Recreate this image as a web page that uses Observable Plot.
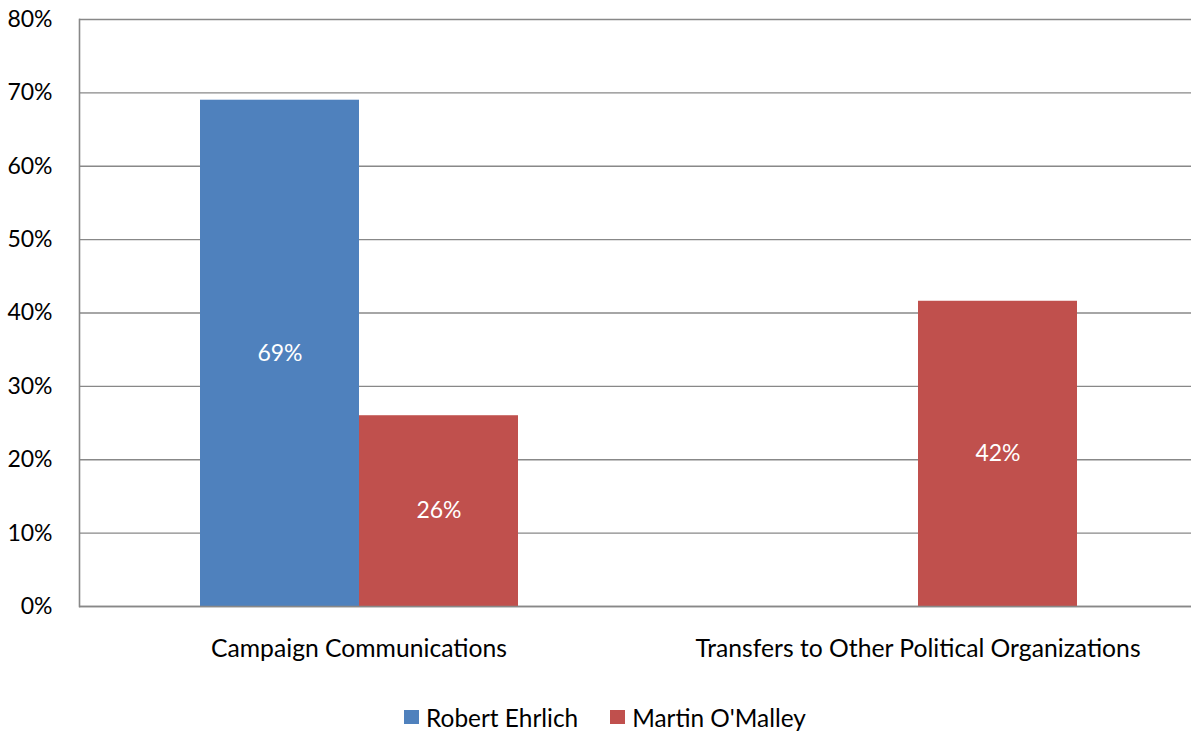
<!DOCTYPE html>
<html><head><meta charset="utf-8">
<script src="https://cdn.jsdelivr.net/npm/d3@7"></script>
<script src="https://cdn.jsdelivr.net/npm/@observablehq/plot@0.6"></script>
<style>
body{margin:0;background:#fff;font-family:"Lato",sans-serif;}
#chart svg{display:block;}
#legend{display:flex;justify-content:center;align-items:center;height:28px;margin-top:23px;font-size:24.4px;color:#000;padding-left:19px;}
#legend .item{display:flex;align-items:center;margin:0 16px;}
#legend .sw{width:15px;height:14px;margin-right:7px;}
</style></head><body>
<div id="chart"></div>
<div id="legend"></div>
<script>
const categories = ["Campaign Communications", "Transfers to Other Political Organizations"];
const seriesNames = ["Robert Ehrlich", "Martin O'Malley"];
const ehrlichValues = [0.69, 0];
const omalleyValues = [0.26, 0.416];
const seriesColors = ["#4F81BD", "#C0504D"];
const yTicks = [0, 0.1, 0.2, 0.3, 0.4, 0.5, 0.6, 0.7, 0.8];

const fmt = d3.format(".0%");
const data = categories.flatMap((c, i) => [
  {category: c, series: seriesNames[0], value: ehrlichValues[i]},
  {category: c, series: seriesNames[1], value: omalleyValues[i]}
]);
const gray = "#888888";

const chart = Plot.plot({
  width: 1191, height: 680,
  marginLeft: 80, marginRight: 0, marginTop: 19, marginBottom: 74,
  style: {fontFamily: "Lato", fontSize: "22px", color: "#000", background: "#fff", overflow: "visible"},
  fx: {domain: categories, range: [79, 1197], paddingInner: 0, paddingOuter: 0, label: null},
  x: {domain: seriesNames, paddingInner: 0, paddingOuter: 0.747, axis: null},
  y: {domain: [0, 0.8], label: null},
  color: {domain: seriesNames, range: seriesColors},
  marks: [
    Plot.gridY(yTicks, {stroke: gray, strokeOpacity: 1, strokeWidth: 1.4}),
    Plot.barY(data, {fx: "category", x: "series", y: "value", fill: "series"}),
    Plot.text(data.filter(d => d.value > 0), {fx: "category", x: "series", y: d => d.value / 2, text: d => fmt(d.value), fill: "white", fontSize: 23}),
    Plot.ruleY([0], {stroke: gray, strokeWidth: 1.6}),
    Plot.frame({anchor: "left", facet: "super", stroke: gray, strokeWidth: 1.6}),
    Plot.axisY(yTicks, {tickFormat: fmt, tickSize: 0, tickPadding: 27, fontSize: 23, label: null, facetAnchor: "left"}),
    Plot.axisFx({anchor: "bottom", tickSize: 0, tickPadding: 33, fontSize: 24.7, label: null})
  ]
});
document.getElementById("chart").appendChild(chart);

const legend = document.getElementById("legend");
seriesNames.forEach((s, i) => {
  const item = document.createElement("div");
  item.className = "item";
  const sw = document.createElement("div");
  sw.className = "sw";
  sw.style.background = seriesColors[i];
  const t = document.createElement("span");
  t.textContent = s;
  item.appendChild(sw); item.appendChild(t);
  legend.appendChild(item);
});
</script>
</body></html>
